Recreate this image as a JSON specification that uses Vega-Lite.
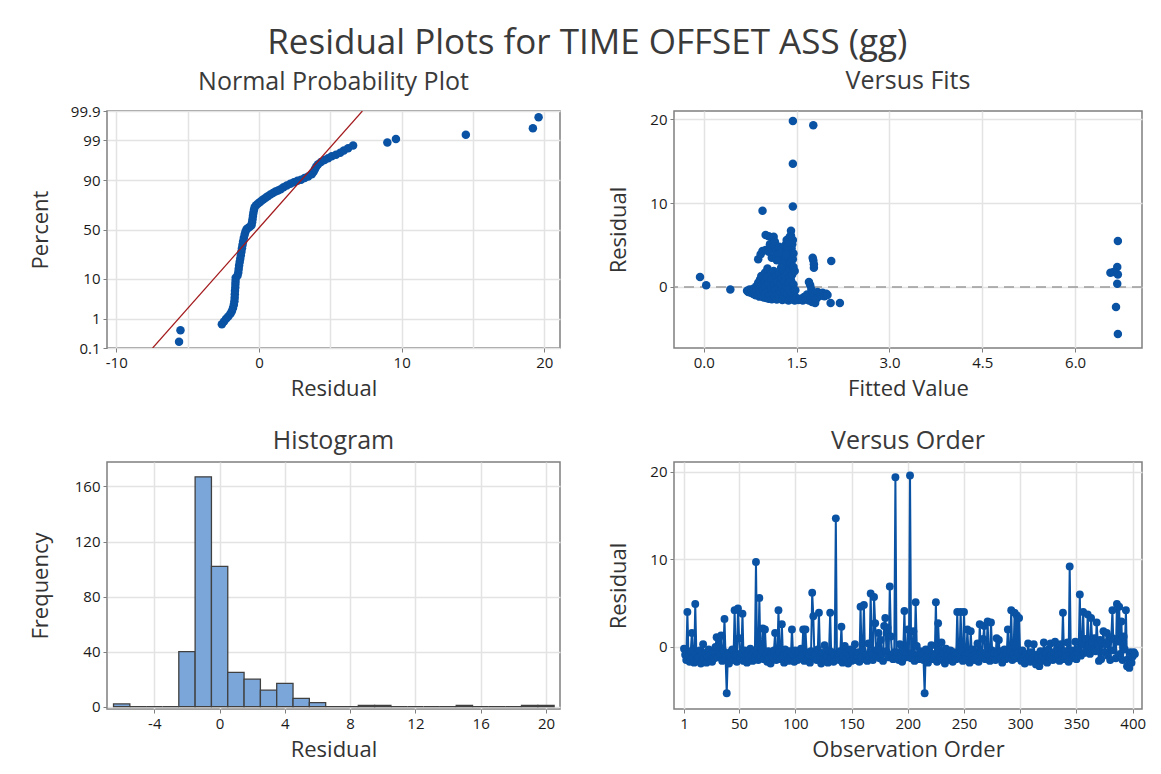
{
  "$schema": "https://vega.github.io/schema/vega-lite/v6.json",
  "background": "white",
  "padding": {"left": 28, "top": 26, "right": 10, "bottom": 0},
  "title": {"text": "Residual Plots for TIME OFFSET ASS (gg)", "fontSize": 35, "fontWeight": "normal", "color": "#3a3a3a", "font": "Open Sans", "anchor": "middle", "offset": 7},
  "datasets": {
    "prob": [
      {"residual": -5.6, "z": -2.93}, {"residual": -5.5, "z": -2.63},
      {"residual": -2.6, "z": -2.47}, {"residual": -2.45, "z": -2.4}, {"residual": -2.3, "z": -2.33}, {"residual": -2.15, "z": -2.27}, {"residual": -2.0, "z": -2.2}, {"residual": -1.9, "z": -2.13}, {"residual": -1.82, "z": -2.05}, {"residual": -1.76, "z": -1.96}, {"residual": -1.72, "z": -1.87}, {"residual": -1.7, "z": -1.78}, {"residual": -1.69, "z": -1.69}, {"residual": -1.68, "z": -1.6}, {"residual": -1.66, "z": -1.51}, {"residual": -1.65, "z": -1.42}, {"residual": -1.64, "z": -1.34}, {"residual": -1.63, "z": -1.26},
      {"residual": -1.5, "z": -1.2}, {"residual": -1.45, "z": -1.12}, {"residual": -1.42, "z": -1.03}, {"residual": -1.39, "z": -0.94}, {"residual": -1.35, "z": -0.85}, {"residual": -1.31, "z": -0.76}, {"residual": -1.27, "z": -0.67}, {"residual": -1.23, "z": -0.58}, {"residual": -1.19, "z": -0.49}, {"residual": -1.15, "z": -0.4}, {"residual": -1.11, "z": -0.31}, {"residual": -1.06, "z": -0.22}, {"residual": -1.0, "z": -0.13}, {"residual": -0.94, "z": -0.05}, {"residual": -0.86, "z": 0.01}, {"residual": -0.76, "z": 0.04}, {"residual": -0.64, "z": 0.07},
      {"residual": -0.52, "z": 0.11}, {"residual": -0.48, "z": 0.19}, {"residual": -0.45, "z": 0.27}, {"residual": -0.42, "z": 0.35}, {"residual": -0.39, "z": 0.43}, {"residual": -0.35, "z": 0.51}, {"residual": -0.3, "z": 0.58},
      {"residual": -0.2, "z": 0.63}, {"residual": -0.08, "z": 0.67}, {"residual": 0.05, "z": 0.71}, {"residual": 0.18, "z": 0.75}, {"residual": 0.32, "z": 0.79}, {"residual": 0.47, "z": 0.83},
      {"residual": 0.62, "z": 0.87}, {"residual": 0.8, "z": 0.91}, {"residual": 0.98, "z": 0.95}, {"residual": 1.16, "z": 0.99}, {"residual": 1.34, "z": 1.02}, {"residual": 1.52, "z": 1.05}, {"residual": 1.72, "z": 1.1}, {"residual": 1.95, "z": 1.15}, {"residual": 2.2, "z": 1.19},
      {"residual": 2.45, "z": 1.23}, {"residual": 2.7, "z": 1.27}, {"residual": 2.95, "z": 1.3}, {"residual": 3.2, "z": 1.34}, {"residual": 3.45, "z": 1.38},
      {"residual": 3.7, "z": 1.44}, {"residual": 3.82, "z": 1.5}, {"residual": 3.92, "z": 1.57}, {"residual": 4.02, "z": 1.64}, {"residual": 4.15, "z": 1.7}, {"residual": 4.35, "z": 1.76}, {"residual": 4.6, "z": 1.81},
      {"residual": 4.85, "z": 1.86}, {"residual": 5.1, "z": 1.91}, {"residual": 5.4, "z": 1.95}, {"residual": 5.7, "z": 2.0}, {"residual": 5.95, "z": 2.06}, {"residual": 6.25, "z": 2.12}, {"residual": 6.6, "z": 2.19},
      {"residual": 9.0, "z": 2.27}, {"residual": 9.6, "z": 2.36}, {"residual": 14.5, "z": 2.47}, {"residual": 19.2, "z": 2.64}, {"residual": 19.6, "z": 2.93}
    ],
    "fitline": [
      {"residual": -7.45, "z": -3.0902}, {"residual": 7.25, "z": 3.0902}
    ],
    "fits": [
      {"fit": -0.06, "residual": 1.2}, {"fit": 0.04, "residual": 0.2}, {"fit": 0.43, "residual": -0.3},
      {"fit": 0.7, "residual": -0.45}, {"fit": 0.72, "residual": -0.6}, {"fit": 0.74, "residual": -0.3}, {"fit": 0.76, "residual": -0.7}, {"fit": 0.78, "residual": -0.5}, {"fit": 0.8, "residual": -0.85}, {"fit": 0.8, "residual": -0.2}, {"fit": 0.83, "residual": -0.65}, {"fit": 0.84, "residual": -1.0}, {"fit": 0.85, "residual": 0.1}, {"fit": 0.86, "residual": -0.4}, {"fit": 0.88, "residual": -0.95}, {"fit": 0.88, "residual": 0.5}, {"fit": 0.9, "residual": -1.15}, {"fit": 0.9, "residual": -0.2}, {"fit": 0.91, "residual": 0.9}, {"fit": 0.92, "residual": -0.6}, {"fit": 0.93, "residual": 1.3}, {"fit": 0.94, "residual": -1.05}, {"fit": 0.95, "residual": 0.25}, {"fit": 0.96, "residual": -0.35}, {"fit": 0.97, "residual": -1.25}, {"fit": 0.98, "residual": 0.7}, {"fit": 0.99, "residual": 1.7}, {"fit": 1.0, "residual": -0.8}, {"fit": 1.0, "residual": 0.0}, {"fit": 1.01, "residual": -1.3}, {"fit": 1.02, "residual": 1.1}, {"fit": 1.03, "residual": 2.2}, {"fit": 1.04, "residual": -0.5}, {"fit": 1.05, "residual": -1.4}, {"fit": 1.05, "residual": 0.45}, {"fit": 1.07, "residual": -1.0}, {"fit": 1.08, "residual": 1.5}, {"fit": 1.09, "residual": -0.2}, {"fit": 1.1, "residual": -1.45}, {"fit": 1.1, "residual": 0.85}, {"fit": 1.12, "residual": -0.7}, {"fit": 1.13, "residual": 1.9}, {"fit": 1.14, "residual": 0.2}, {"fit": 1.15, "residual": -1.2}, {"fit": 1.16, "residual": -0.4}, {"fit": 1.17, "residual": 1.25}, {"fit": 1.18, "residual": -1.5}, {"fit": 1.19, "residual": 0.6}, {"fit": 1.2, "residual": -0.9}, {"fit": 1.21, "residual": -0.1}, {"fit": 1.22, "residual": 1.6}, {"fit": 1.23, "residual": -1.35}, {"fit": 1.24, "residual": 0.35}, {"fit": 1.25, "residual": -0.6}, {"fit": 1.26, "residual": 1.0}, {"fit": 1.27, "residual": -1.55}, {"fit": 1.28, "residual": -0.25}, {"fit": 1.29, "residual": 2.0}, {"fit": 1.3, "residual": -1.1}, {"fit": 1.3, "residual": 0.7}, {"fit": 1.31, "residual": -0.5}, {"fit": 1.32, "residual": 1.3}, {"fit": 1.33, "residual": -1.45}, {"fit": 1.33, "residual": 2.5}, {"fit": 1.34, "residual": 0.1}, {"fit": 1.35, "residual": -0.85}, {"fit": 1.35, "residual": 1.8}, {"fit": 1.36, "residual": 3.0}, {"fit": 1.37, "residual": -1.6}, {"fit": 1.37, "residual": 0.45}, {"fit": 1.38, "residual": -0.3}, {"fit": 1.38, "residual": 2.2}, {"fit": 1.38, "residual": 3.6}, {"fit": 1.39, "residual": 1.1}, {"fit": 1.4, "residual": -1.2}, {"fit": 1.4, "residual": 4.1}, {"fit": 1.41, "residual": 0.8}, {"fit": 1.41, "residual": 2.8}, {"fit": 1.42, "residual": -0.7}, {"fit": 1.42, "residual": 4.6}, {"fit": 1.43, "residual": 1.5}, {"fit": 1.43, "residual": 5.1}, {"fit": 1.44, "residual": -1.5}, {"fit": 1.44, "residual": 3.3}, {"fit": 1.44, "residual": 5.6}, {"fit": 1.45, "residual": 0.3}, {"fit": 1.45, "residual": 2.4}, {"fit": 1.45, "residual": 4.0}, {"fit": 1.41, "residual": 6.1}, {"fit": 1.41, "residual": 6.7}, {"fit": 1.46, "residual": -1.0}, {"fit": 1.47, "residual": 1.9}, {"fit": 1.48, "residual": -0.4}, {"fit": 1.47, "residual": -1.6},
      {"fit": 1.28, "residual": 3.4}, {"fit": 1.3, "residual": 4.4}, {"fit": 1.32, "residual": 5.0}, {"fit": 1.34, "residual": 5.6}, {"fit": 1.33, "residual": 3.9}, {"fit": 1.27, "residual": 2.8}, {"fit": 1.25, "residual": 2.3}, {"fit": 1.36, "residual": 4.8}, {"fit": 1.38, "residual": 5.3}, {"fit": 1.39, "residual": 6.0},
      {"fit": 0.88, "residual": 3.3}, {"fit": 0.92, "residual": 3.9}, {"fit": 0.95, "residual": 4.3}, {"fit": 1.0, "residual": 4.4}, {"fit": 1.0, "residual": 6.2}, {"fit": 1.05, "residual": 6.05}, {"fit": 1.1, "residual": 5.9}, {"fit": 1.13, "residual": 6.0}, {"fit": 1.07, "residual": 5.1}, {"fit": 1.12, "residual": 4.7}, {"fit": 1.16, "residual": 4.3}, {"fit": 1.2, "residual": 3.9}, {"fit": 1.1, "residual": 3.5}, {"fit": 1.05, "residual": 4.2}, {"fit": 0.95, "residual": 9.1}, {"fit": 1.15, "residual": 5.4}, {"fit": 1.18, "residual": 3.2}, {"fit": 1.22, "residual": 4.8},
      {"fit": 1.44, "residual": 19.8}, {"fit": 1.77, "residual": 19.3}, {"fit": 1.44, "residual": 14.7}, {"fit": 1.44, "residual": 9.6},
      {"fit": 1.5, "residual": -1.3}, {"fit": 1.53, "residual": -1.55}, {"fit": 1.57, "residual": -1.4}, {"fit": 1.6, "residual": -1.6}, {"fit": 1.62, "residual": -1.2}, {"fit": 1.65, "residual": -1.45}, {"fit": 1.67, "residual": -0.9}, {"fit": 1.7, "residual": -1.6}, {"fit": 1.7, "residual": 0.6}, {"fit": 1.72, "residual": 0.2}, {"fit": 1.73, "residual": -1.3}, {"fit": 1.74, "residual": -0.3}, {"fit": 1.75, "residual": -1.8}, {"fit": 1.76, "residual": -0.7}, {"fit": 1.76, "residual": 3.5}, {"fit": 1.77, "residual": 3.2}, {"fit": 1.78, "residual": 2.3}, {"fit": 1.78, "residual": 2.7}, {"fit": 1.78, "residual": -1.1}, {"fit": 1.8, "residual": -1.9}, {"fit": 1.8, "residual": -0.9}, {"fit": 1.82, "residual": -1.4}, {"fit": 1.84, "residual": -0.6}, {"fit": 1.86, "residual": -1.1}, {"fit": 1.88, "residual": -0.8}, {"fit": 1.9, "residual": -1.0}, {"fit": 1.92, "residual": -0.7}, {"fit": 1.95, "residual": -1.1}, {"fit": 1.98, "residual": -0.8}, {"fit": 2.0, "residual": -0.95}, {"fit": 2.05, "residual": -1.9}, {"fit": 2.06, "residual": 3.1}, {"fit": 2.2, "residual": -1.9},
      {"fit": 6.69, "residual": 5.5}, {"fit": 6.68, "residual": 2.4}, {"fit": 6.57, "residual": 1.7}, {"fit": 6.62, "residual": 1.8}, {"fit": 6.69, "residual": 1.5}, {"fit": 6.68, "residual": 0.4}, {"fit": 6.66, "residual": -2.4}, {"fit": 6.69, "residual": -5.6}
    ],
    "hist": [
      {"bin_start": -6.5, "bin_end": -5.5, "count": 2},
      {"bin_start": -5.5, "bin_end": -4.5, "count": 0},
      {"bin_start": -4.5, "bin_end": -3.5, "count": 0},
      {"bin_start": -3.5, "bin_end": -2.5, "count": 0},
      {"bin_start": -2.5, "bin_end": -1.5, "count": 40},
      {"bin_start": -1.5, "bin_end": -0.5, "count": 167},
      {"bin_start": -0.5, "bin_end": 0.5, "count": 102},
      {"bin_start": 0.5, "bin_end": 1.5, "count": 25},
      {"bin_start": 1.5, "bin_end": 2.5, "count": 20},
      {"bin_start": 2.5, "bin_end": 3.5, "count": 12},
      {"bin_start": 3.5, "bin_end": 4.5, "count": 17},
      {"bin_start": 4.5, "bin_end": 5.5, "count": 6},
      {"bin_start": 5.5, "bin_end": 6.5, "count": 3},
      {"bin_start": 6.5, "bin_end": 7.5, "count": 0},
      {"bin_start": 7.5, "bin_end": 8.5, "count": 0},
      {"bin_start": 8.5, "bin_end": 9.5, "count": 1},
      {"bin_start": 9.5, "bin_end": 10.5, "count": 1},
      {"bin_start": 10.5, "bin_end": 11.5, "count": 0},
      {"bin_start": 11.5, "bin_end": 12.5, "count": 0},
      {"bin_start": 12.5, "bin_end": 13.5, "count": 0},
      {"bin_start": 13.5, "bin_end": 14.5, "count": 0},
      {"bin_start": 14.5, "bin_end": 15.5, "count": 1},
      {"bin_start": 15.5, "bin_end": 16.5, "count": 0},
      {"bin_start": 16.5, "bin_end": 17.5, "count": 0},
      {"bin_start": 17.5, "bin_end": 18.5, "count": 0},
      {"bin_start": 18.5, "bin_end": 19.5, "count": 1},
      {"bin_start": 19.5, "bin_end": 20.5, "count": 1}
    ],
    "order": [
      {"obs":1,"residual":-0.2},{"obs":2,"residual":-0.9},{"obs":3,"residual":-1.5},{"obs":4,"residual":4.0},{"obs":5,"residual":-1.1},{"obs":6,"residual":-1.7},{"obs":7,"residual":-0.5},{"obs":8,"residual":1.6},{"obs":9,"residual":-1.3},{"obs":10,"residual":-1.8},
      {"obs":11,"residual":4.9},{"obs":12,"residual":-0.8},{"obs":13,"residual":-1.6},{"obs":14,"residual":-1.2},{"obs":15,"residual":-0.4},{"obs":16,"residual":-1.9},{"obs":17,"residual":-1.0},{"obs":18,"residual":0.3},{"obs":19,"residual":-1.4},{"obs":20,"residual":-0.7},
      {"obs":21,"residual":-1.8},{"obs":22,"residual":-1.1},{"obs":23,"residual":-0.3},{"obs":24,"residual":-1.5},{"obs":25,"residual":-0.9},{"obs":26,"residual":-1.7},{"obs":27,"residual":-0.6},{"obs":28,"residual":-1.3},{"obs":29,"residual":0.0},{"obs":30,"residual":1.1},
      {"obs":31,"residual":-1.2},{"obs":32,"residual":1.0},{"obs":33,"residual":-0.8},{"obs":34,"residual":1.3},{"obs":35,"residual":-1.6},{"obs":36,"residual":-0.5},{"obs":37,"residual":3.2},{"obs":38,"residual":-1.4},{"obs":39,"residual":-5.3},{"obs":40,"residual":-0.9},
      {"obs":41,"residual":-1.9},{"obs":42,"residual":-0.6},{"obs":43,"residual":-1.2},{"obs":44,"residual":-0.3},{"obs":45,"residual":-1.5},{"obs":46,"residual":4.2},{"obs":47,"residual":-1.0},{"obs":48,"residual":-1.7},{"obs":49,"residual":4.4},{"obs":50,"residual":1.0},
      {"obs":51,"residual":-1.3},{"obs":52,"residual":-0.7},{"obs":53,"residual":3.8},{"obs":54,"residual":-1.6},{"obs":55,"residual":-0.4},{"obs":56,"residual":-1.1},{"obs":57,"residual":-1.8},{"obs":58,"residual":-0.8},{"obs":59,"residual":-1.4},{"obs":60,"residual":-0.2},
      {"obs":61,"residual":-1.0},{"obs":62,"residual":-1.6},{"obs":63,"residual":-0.6},{"obs":64,"residual":-1.2},{"obs":65,"residual":9.7},{"obs":66,"residual":-0.9},{"obs":67,"residual":-1.5},{"obs":68,"residual":5.6},{"obs":69,"residual":-1.1},{"obs":70,"residual":-0.3},
      {"obs":71,"residual":2.1},{"obs":72,"residual":-1.4},{"obs":73,"residual":2.0},{"obs":74,"residual":-0.8},{"obs":75,"residual":-1.7},{"obs":76,"residual":-0.5},{"obs":77,"residual":-1.3},{"obs":78,"residual":-1.9},{"obs":79,"residual":-0.7},{"obs":80,"residual":-1.2},
      {"obs":81,"residual":-0.4},{"obs":82,"residual":1.6},{"obs":83,"residual":-1.5},{"obs":84,"residual":-1.0},{"obs":85,"residual":4.2},{"obs":86,"residual":-0.6},{"obs":87,"residual":-1.4},{"obs":88,"residual":2.6},{"obs":89,"residual":-1.1},{"obs":90,"residual":-1.8},
      {"obs":91,"residual":-0.3},{"obs":92,"residual":-1.2},{"obs":93,"residual":-0.8},{"obs":94,"residual":-1.6},{"obs":95,"residual":-0.5},{"obs":96,"residual":-1.3},{"obs":97,"residual":2.0},{"obs":98,"residual":-0.9},{"obs":99,"residual":-1.7},{"obs":100,"residual":-0.4},
      {"obs":101,"residual":-1.1},{"obs":102,"residual":-1.5},{"obs":103,"residual":-0.7},{"obs":104,"residual":-1.3},{"obs":105,"residual":-0.2},{"obs":106,"residual":-1.0},{"obs":107,"residual":2.0},{"obs":108,"residual":-1.6},{"obs":109,"residual":2.0},{"obs":110,"residual":-0.6},
      {"obs":111,"residual":-1.4},{"obs":112,"residual":-0.9},{"obs":113,"residual":-1.8},{"obs":114,"residual":-0.5},{"obs":115,"residual":6.2},{"obs":116,"residual":3.5},{"obs":117,"residual":-1.2},{"obs":118,"residual":-0.8},{"obs":119,"residual":-1.5},{"obs":120,"residual":-0.3},
      {"obs":121,"residual":3.9},{"obs":122,"residual":-1.1},{"obs":123,"residual":-1.9},{"obs":124,"residual":-0.7},{"obs":125,"residual":-1.4},{"obs":126,"residual":0.2},{"obs":127,"residual":-1.6},{"obs":128,"residual":-1.0},{"obs":129,"residual":-1.8},{"obs":130,"residual":-0.4},
      {"obs":131,"residual":3.9},{"obs":132,"residual":-1.3},{"obs":133,"residual":-0.6},{"obs":134,"residual":-1.7},{"obs":135,"residual":-1.0},{"obs":136,"residual":14.7},{"obs":137,"residual":-1.2},{"obs":138,"residual":-0.9},{"obs":139,"residual":-1.5},{"obs":140,"residual":-0.5},
      {"obs":141,"residual":2.3},{"obs":142,"residual":-1.8},{"obs":143,"residual":-1.1},{"obs":144,"residual":0.1},{"obs":145,"residual":-1.4},{"obs":146,"residual":-0.7},{"obs":147,"residual":-1.9},{"obs":148,"residual":-1.0},{"obs":149,"residual":-0.3},{"obs":150,"residual":-1.6},
      {"obs":151,"residual":-0.8},{"obs":152,"residual":-1.3},{"obs":153,"residual":0.3},{"obs":154,"residual":-1.5},{"obs":155,"residual":-1.0},{"obs":156,"residual":-0.6},{"obs":157,"residual":-1.7},{"obs":158,"residual":4.6},{"obs":159,"residual":-1.2},{"obs":160,"residual":-0.4},
      {"obs":161,"residual":4.8},{"obs":162,"residual":-1.4},{"obs":163,"residual":-0.9},{"obs":164,"residual":-1.6},{"obs":165,"residual":0.4},{"obs":166,"residual":-1.1},{"obs":167,"residual":6.1},{"obs":168,"residual":-0.7},{"obs":169,"residual":-1.5},{"obs":170,"residual":5.7},
      {"obs":171,"residual":2.7},{"obs":172,"residual":-1.0},{"obs":173,"residual":-0.3},{"obs":174,"residual":1.6},{"obs":175,"residual":-1.3},{"obs":176,"residual":0.8},{"obs":177,"residual":-0.8},{"obs":178,"residual":-1.6},{"obs":179,"residual":2.4},{"obs":180,"residual":3.3},
      {"obs":181,"residual":-0.5},{"obs":182,"residual":2.2},{"obs":183,"residual":-1.2},{"obs":184,"residual":6.9},{"obs":185,"residual":1.2},{"obs":186,"residual":-0.9},{"obs":187,"residual":-1.4},{"obs":188,"residual":-0.6},{"obs":189,"residual":19.4},{"obs":190,"residual":-1.1},
      {"obs":191,"residual":-0.6},{"obs":192,"residual":-1.5},{"obs":193,"residual":0.3},{"obs":194,"residual":-1.0},{"obs":195,"residual":-1.7},{"obs":196,"residual":-0.4},{"obs":197,"residual":4.1},{"obs":198,"residual":-1.2},{"obs":199,"residual":-0.8},{"obs":200,"residual":2.0},
      {"obs":201,"residual":-1.0},{"obs":202,"residual":19.6},{"obs":203,"residual":-1.3},{"obs":204,"residual":-0.7},{"obs":205,"residual":1.8},{"obs":206,"residual":-1.6},{"obs":207,"residual":5.1},{"obs":208,"residual":0.1},{"obs":209,"residual":-1.0},{"obs":210,"residual":-1.4},
      {"obs":211,"residual":-0.5},{"obs":212,"residual":-1.2},{"obs":213,"residual":-0.9},{"obs":214,"residual":-1.5},{"obs":215,"residual":-5.3},{"obs":216,"residual":-0.3},{"obs":217,"residual":-1.1},{"obs":218,"residual":-1.8},{"obs":219,"residual":-0.6},{"obs":220,"residual":-1.3},
      {"obs":221,"residual":0.2},{"obs":222,"residual":-0.8},{"obs":223,"residual":-1.4},{"obs":224,"residual":-1.0},{"obs":225,"residual":5.1},{"obs":226,"residual":-1.7},{"obs":227,"residual":2.7},{"obs":228,"residual":-0.4},{"obs":229,"residual":-1.2},{"obs":230,"residual":0.5},
      {"obs":231,"residual":-1.5},{"obs":232,"residual":-0.7},{"obs":233,"residual":-1.9},{"obs":234,"residual":-0.2},{"obs":235,"residual":-1.1},{"obs":236,"residual":-0.9},{"obs":237,"residual":-1.5},{"obs":238,"residual":-0.4},{"obs":239,"residual":-1.2},{"obs":240,"residual":-1.7},
      {"obs":241,"residual":-0.6},{"obs":242,"residual":-1.1},{"obs":243,"residual":-1.4},{"obs":244,"residual":4.0},{"obs":245,"residual":-0.8},{"obs":246,"residual":-1.3},{"obs":247,"residual":4.0},{"obs":248,"residual":-0.5},{"obs":249,"residual":-1.6},{"obs":250,"residual":4.0},
      {"obs":251,"residual":-1.0},{"obs":252,"residual":-1.4},{"obs":253,"residual":2.0},{"obs":254,"residual":-0.7},{"obs":255,"residual":-1.8},{"obs":256,"residual":1.8},{"obs":257,"residual":-1.1},{"obs":258,"residual":-0.3},{"obs":259,"residual":-1.5},{"obs":260,"residual":-0.9},
      {"obs":261,"residual":-1.3},{"obs":262,"residual":0.4},{"obs":263,"residual":-1.7},{"obs":264,"residual":2.6},{"obs":265,"residual":-0.6},{"obs":266,"residual":-1.2},{"obs":267,"residual":0.9},{"obs":268,"residual":2.4},{"obs":269,"residual":-1.4},{"obs":270,"residual":-0.8},
      {"obs":271,"residual":2.9},{"obs":272,"residual":-1.0},{"obs":273,"residual":-1.6},{"obs":274,"residual":2.8},{"obs":275,"residual":-0.4},{"obs":276,"residual":-1.2},{"obs":277,"residual":-0.7},{"obs":278,"residual":-1.5},{"obs":279,"residual":1.0},{"obs":280,"residual":-0.9},
      {"obs":281,"residual":0.8},{"obs":282,"residual":-1.3},{"obs":283,"residual":-0.5},{"obs":284,"residual":-1.8},{"obs":285,"residual":-1.0},{"obs":286,"residual":-0.3},{"obs":287,"residual":-1.4},{"obs":288,"residual":-0.8},{"obs":289,"residual":2.0},{"obs":290,"residual":-1.2},
      {"obs":291,"residual":-0.6},{"obs":292,"residual":4.2},{"obs":293,"residual":-1.5},{"obs":294,"residual":-0.9},{"obs":295,"residual":3.9},{"obs":296,"residual":-1.3},{"obs":297,"residual":3.6},{"obs":298,"residual":-0.7},{"obs":299,"residual":3.3},{"obs":300,"residual":-1.1},
      {"obs":301,"residual":-1.6},{"obs":302,"residual":-0.4},{"obs":303,"residual":-1.2},{"obs":304,"residual":-1.9},{"obs":305,"residual":-0.8},{"obs":306,"residual":-1.4},{"obs":307,"residual":0.4},{"obs":308,"residual":-1.0},{"obs":309,"residual":-1.7},{"obs":310,"residual":-0.6},
      {"obs":311,"residual":-1.3},{"obs":312,"residual":0.3},{"obs":313,"residual":-1.5},{"obs":314,"residual":-2.0},{"obs":315,"residual":-0.9},{"obs":316,"residual":-1.2},{"obs":317,"residual":-2.2},{"obs":318,"residual":-0.5},{"obs":319,"residual":-1.6},{"obs":320,"residual":-1.1},
      {"obs":321,"residual":0.5},{"obs":322,"residual":-1.4},{"obs":323,"residual":-0.7},{"obs":324,"residual":-1.8},{"obs":325,"residual":-0.3},{"obs":326,"residual":-1.2},{"obs":327,"residual":0.4},{"obs":328,"residual":-0.9},{"obs":329,"residual":-1.5},{"obs":330,"residual":-0.6},
      {"obs":331,"residual":0.6},{"obs":332,"residual":-1.3},{"obs":333,"residual":-0.2},{"obs":334,"residual":-1.0},{"obs":335,"residual":-1.6},{"obs":336,"residual":0.3},{"obs":337,"residual":-0.8},{"obs":338,"residual":3.9},{"obs":339,"residual":-1.4},{"obs":340,"residual":-0.5},
      {"obs":341,"residual":-1.1},{"obs":342,"residual":0.5},{"obs":343,"residual":-1.7},{"obs":344,"residual":9.2},{"obs":345,"residual":-0.9},{"obs":346,"residual":-1.3},{"obs":347,"residual":-0.4},{"obs":348,"residual":-1.0},{"obs":349,"residual":0.6},{"obs":350,"residual":-1.4},
      {"obs":351,"residual":-0.6},{"obs":352,"residual":-0.2},{"obs":353,"residual":6.0},{"obs":354,"residual":-1.0},{"obs":355,"residual":0.3},{"obs":356,"residual":4.0},{"obs":357,"residual":-0.7},{"obs":358,"residual":0.9},{"obs":359,"residual":-0.4},{"obs":360,"residual":3.7},
      {"obs":361,"residual":0.2},{"obs":362,"residual":-0.8},{"obs":363,"residual":3.3},{"obs":364,"residual":0.6},{"obs":365,"residual":-0.3},{"obs":366,"residual":1.0},{"obs":367,"residual":-0.5},{"obs":368,"residual":2.8},{"obs":369,"residual":0.4},{"obs":370,"residual":-1.6},
      {"obs":371,"residual":0.8},{"obs":372,"residual":-1.4},{"obs":373,"residual":0.5},{"obs":374,"residual":1.8},{"obs":375,"residual":-0.6},{"obs":376,"residual":0.3},{"obs":377,"residual":1.6},{"obs":378,"residual":-1.0},{"obs":379,"residual":0.7},{"obs":380,"residual":-1.5},
      {"obs":381,"residual":1.1},{"obs":382,"residual":4.2},{"obs":383,"residual":-0.4},{"obs":384,"residual":0.9},{"obs":385,"residual":-1.3},{"obs":386,"residual":4.9},{"obs":387,"residual":0.6},{"obs":388,"residual":4.6},{"obs":389,"residual":-0.8},{"obs":390,"residual":2.9},
      {"obs":391,"residual":-1.5},{"obs":392,"residual":1.2},{"obs":393,"residual":-0.3},{"obs":394,"residual":4.2},{"obs":395,"residual":-2.2},{"obs":396,"residual":-1.4},{"obs":397,"residual":-2.4},{"obs":398,"residual":-0.6},{"obs":399,"residual":-1.8},{"obs":400,"residual":-1.1},
      {"obs":401,"residual":-0.6},{"obs":402,"residual":-0.8}
    ]
  },
  "columns": 2,
  "spacing": {"row": 114, "column": 114},
  "bounds": "flush",
  "concat": [
    {
      "width": 453,
      "height": 237,
      "title": {"text": "Normal Probability Plot", "offset": 9},
      "layer": [
        {
          "data": {"name": "prob"},
          "mark": {"type": "circle", "size": 72, "color": "#0a52a3", "opacity": 1},
          "encoding": {
            "x": {"field": "residual", "type": "quantitative", "scale": {"domain": [-10.65, 21.1], "nice": false, "zero": false},
              "axis": {"title": "Residual", "values": [-10, -5, 0, 5, 10, 15, 20], "tickCount": 20, "labelExpr": "datum.value % 10 === 0 ? toString(datum.value) : ''", "tickOpacity": {"condition": {"test": "datum.value % 10 === 0", "value": 1}, "value": 0}}},
            "y": {"field": "z", "type": "quantitative", "scale": {"domain": [-3.0902, 3.0902], "nice": false, "zero": false},
              "axis": {"title": "Percent", "values": [-3.0902, -2.3263, -1.2816, 0, 1.2816, 2.3263, 3.0902], "tickCount": 20, "labelExpr": "datum.value < -3 ? '0.1' : datum.value < -2 ? '1' : datum.value < -1 ? '10' : datum.value < 1 ? '50' : datum.value < 2 ? '90' : datum.value < 3 ? '99' : '99.9'", "labelOverlap": false, "minExtent": 40, "maxExtent": 40, "titlePadding": 15}}
          }
        },
        {
          "data": {"name": "fitline"},
          "mark": {"type": "line", "color": "#a3191c", "strokeWidth": 1.2, "clip": true},
          "encoding": {
            "x": {"field": "residual", "type": "quantitative", "title": "Residual"},
            "y": {"field": "z", "type": "quantitative", "title": "Percent"}
          }
        }
      ]
    },
    {
      "width": 468,
      "height": 237,
      "title": {"text": "Versus Fits", "offset": 17},
      "layer": [
        {
          "data": {"values": [{}]},
          "mark": {"type": "rule", "color": "#9a9a9a", "strokeWidth": 1.5, "strokeDash": [10, 6]},
          "encoding": {"y": {"datum": 0, "type": "quantitative", "title": "Residual"}}
        },
        {
          "data": {"name": "fits"},
          "mark": {"type": "circle", "size": 72, "color": "#0a52a3", "opacity": 1},
          "encoding": {
            "x": {"field": "fit", "type": "quantitative", "scale": {"domain": [-0.48, 7.08], "nice": false, "zero": false},
              "axis": {"title": "Fitted Value", "values": [0, 1.5, 3, 4.5, 6], "tickCount": 20, "format": ".1f"}},
            "y": {"field": "residual", "type": "quantitative", "scale": {"domain": [-7.28, 21.0], "nice": false, "zero": false},
              "axis": {"title": "Residual", "values": [0, 10, 20], "tickCount": 20, "minExtent": 30, "maxExtent": 30, "titlePadding": 14}}
          }
        }
      ]
    },
    {
      "width": 453,
      "height": 247,
      "title": {"text": "Histogram", "offset": 8},
      "data": {"name": "hist"},
      "mark": {"type": "bar", "fill": "#7ba6da", "stroke": "#404040", "strokeWidth": 1.3, "clip": true},
      "encoding": {
        "x": {"field": "bin_start", "type": "quantitative", "scale": {"domain": [-6.9, 20.86], "nice": false, "zero": false},
          "axis": {"title": "Residual", "values": [-4, 0, 4, 8, 12, 16, 20], "tickCount": 20, "labelExpr": "toString(datum.value)"}},
        "x2": {"field": "bin_end"},
        "y": {"field": "count", "type": "quantitative", "scale": {"domain": [-1.66, 177.8], "nice": false, "zero": false},
          "axis": {"title": "Frequency", "values": [0, 40, 80, 120, 160], "tickCount": 20, "minExtent": 40, "maxExtent": 40, "titlePadding": 15}},
        "y2": {"datum": 0}
      }
    },
    {
      "width": 468,
      "height": 247,
      "title": {"text": "Versus Order", "offset": 8},
      "data": {"name": "order"},
      "encoding": {
        "x": {"field": "obs", "type": "quantitative", "scale": {"domain": [-7.9, 408.3], "nice": false, "zero": false},
          "axis": {"title": "Observation Order", "values": [1, 50, 100, 150, 200, 250, 300, 350, 400], "tickCount": 20}},
        "y": {"field": "residual", "type": "quantitative", "scale": {"domain": [-7.1, 21.14], "nice": false, "zero": false},
          "axis": {"title": "Residual", "values": [0, 10, 20], "tickCount": 20, "minExtent": 30, "maxExtent": 30, "titlePadding": 14}}
      },
      "layer": [
        {"mark": {"type": "line", "color": "#0a52a3", "strokeWidth": 2}, "encoding": {}},
        {"mark": {"type": "circle", "size": 62, "color": "#0a52a3", "opacity": 1}}
      ]
    }
  ],
  "config": {
    "font": "Open Sans",
    "view": {"stroke": "#7f7f7f", "strokeWidth": 1.5},
    "axis": {"domain": false, "grid": true, "gridColor": "#e3e3e3", "gridWidth": 1.5, "tickColor": "#7f7f7f", "tickSize": 4, "labelFont": "Open Sans", "labelFontSize": 15, "labelColor": "#1a1a1a", "labelPadding": 3, "labelOverlap": false, "titleFont": "Open Sans", "titleFontSize": 22, "titleFontWeight": "normal", "titleColor": "#333333"},
    "axisX": {"titlePadding": 8},
    "title": {"font": "Open Sans", "fontSize": 25, "fontWeight": "normal", "color": "#3a3a3a"}
  }
}
